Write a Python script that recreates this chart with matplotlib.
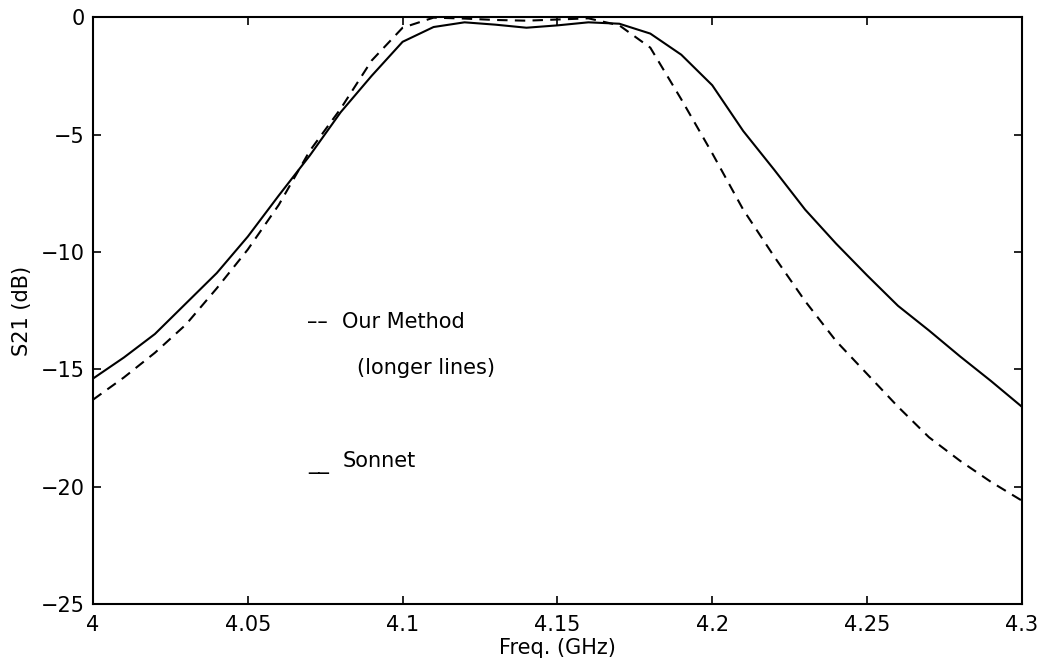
import numpy as np
import matplotlib
matplotlib.use('Agg')
import matplotlib.pyplot as plt

plt.rcParams['font.family'] = ['DejaVu Sans']

# frequency grid (GHz)
freq = [4.00, 4.01, 4.02, 4.03, 4.04, 4.05, 4.06, 4.07, 4.08, 4.09,
        4.10, 4.11, 4.12, 4.13, 4.14, 4.15, 4.16, 4.17, 4.18, 4.19,
        4.20, 4.21, 4.22, 4.23, 4.24, 4.25, 4.26, 4.27, 4.28, 4.29, 4.30]

# Sonnet simulation, S21 in dB
sonnet = [-15.4, -14.5, -13.5, -12.2, -10.9, -9.35, -7.6, -5.9, -4.05, -2.5,
          -1.05, -0.42, -0.22, -0.32, -0.45, -0.35, -0.22, -0.28, -0.7, -1.6,
          -2.9, -4.85, -6.5, -8.2, -9.65, -11.0, -12.3, -13.35, -14.45, -15.5, -16.6]

# our method (longer lines), S21 in dB
ours = [-16.3, -15.35, -14.3, -13.1, -11.55, -9.9, -8.0, -5.7, -3.9, -1.85,
        -0.45, -0.02, -0.06, -0.12, -0.15, -0.1, -0.05, -0.35, -1.3, -3.5,
        -5.8, -8.2, -10.2, -12.1, -13.8, -15.2, -16.6, -17.9, -18.9, -19.8, -20.6]

xticks = [4.0, 4.05, 4.1, 4.15, 4.2, 4.25, 4.3]
xticklabels = ['4', '4.05', '4.1', '4.15', '4.2', '4.25', '4.3']
yticks = [-25, -20, -15, -10, -5, 0]
yticklabels = ['\u221225', '\u221220', '\u221215', '\u221210', '\u22125', '0']

fs = 15
fig = plt.figure(figsize=(10.47, 6.60), dpi=100)
ax = fig.add_axes([0.0888, 0.085, 0.8872, 0.889])

ax.plot(freq, ours, color='black', lw=1.5, dashes=(5, 3.5))
ax.plot(freq, sonnet, color='black', lw=1.5)

ax.set_xlim(4.0, 4.3)
ax.set_ylim(-25, 0)
ax.set_xticks(xticks)
ax.set_xticklabels(xticklabels, fontsize=fs)
ax.set_yticks(yticks)
ax.set_yticklabels(yticklabels, fontsize=fs)
ax.tick_params(direction='in', length=6, width=1.2, top=True, right=True)
ax.tick_params(axis='x', pad=8)
ax.tick_params(axis='y', pad=6)
for s in ax.spines.values():
    s.set_linewidth(1.5)

ax.set_xlabel('Freq. (GHz)', fontsize=fs, labelpad=2)
ax.set_ylabel('S21 (dB)', fontsize=fs, labelpad=6)

# hand placed legend text
ax.text(4.069, -12.98, '\u2013\u2013', fontsize=fs, va='center', ha='left')
ax.text(4.0804, -12.98, 'Our Method', fontsize=fs, va='center', ha='left')
ax.text(4.0852, -14.94, '(longer lines)', fontsize=fs, va='center', ha='left')
ax.text(4.0694, -19.05, '__', fontsize=fs, va='center', ha='left')
ax.text(4.0807, -18.9, 'Sonnet', fontsize=fs, va='center', ha='left')

fig.savefig('out.png', dpi=100)
